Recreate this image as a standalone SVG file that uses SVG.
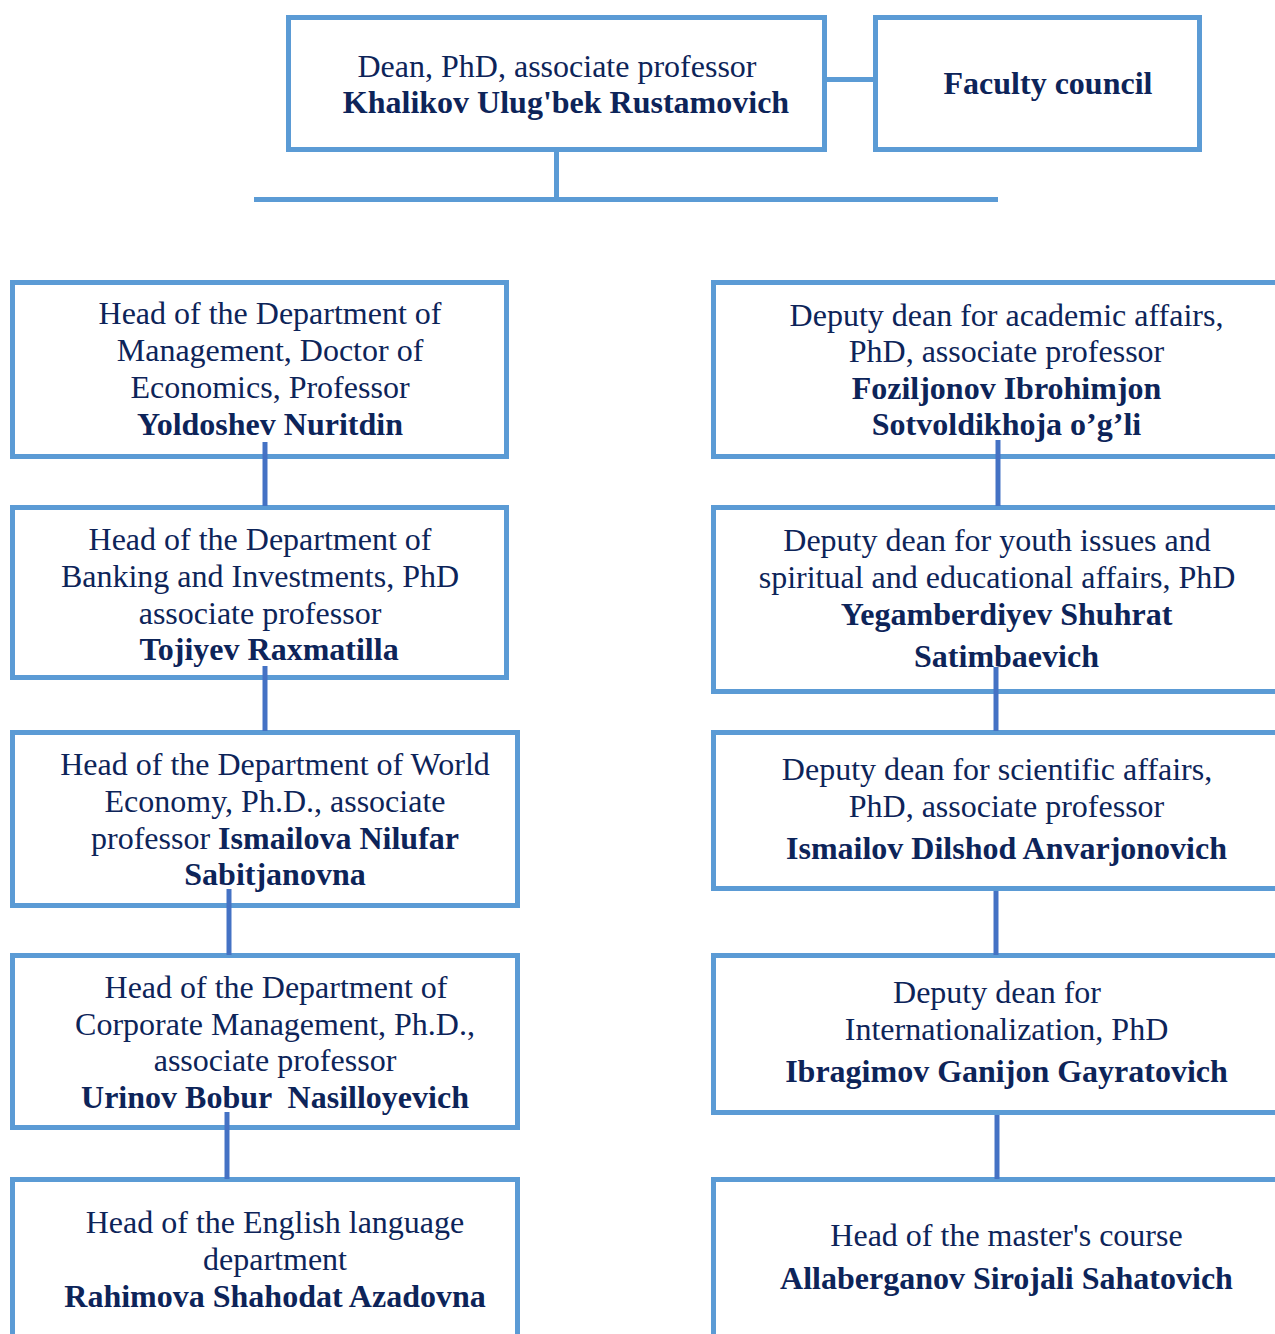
<svg xmlns="http://www.w3.org/2000/svg" width="1275" height="1334" viewBox="0 0 1275 1334">
<style>
.box{fill:#fff;stroke:#5b9bd5;stroke-width:5}
.t{font-family:"Liberation Serif","Times New Roman",serif;font-size:32px;fill:#0d2459;text-anchor:middle}
.b{font-weight:bold}
.c{stroke:#4472c4;stroke-width:5;fill:none}
.cl{stroke:#5b9bd5;stroke-width:5;fill:none}
</style>
<rect width="1275" height="1334" fill="#fff"/>
<g id="dean">
<rect class="box" x="288.5" y="17.5" width="536" height="132"/>
<text class="t" x="557" y="77">Dean, PhD, associate professor</text>
<text class="t b" x="566" y="113">Khalikov Ulug'bek Rustamovich</text>
</g>
<g id="faculty-council">
<rect class="box" x="875.5" y="17.5" width="324" height="132"/>
<text class="t b" x="1048" y="94">Faculty council</text>
</g>
<g id="head-management">
<rect class="box" x="12.5" y="282.5" width="494" height="174"/>
<text class="t" x="270" y="324">Head of the Department of</text>
<text class="t" x="270" y="361">Management, Doctor of</text>
<text class="t" x="270" y="398">Economics, Professor</text>
<text class="t b" x="270" y="435">Yoldoshev Nuritdin</text>
</g>
<g id="head-banking">
<rect class="box" x="12.5" y="507.5" width="494" height="170"/>
<text class="t" x="260" y="550">Head of the Department of</text>
<text class="t" x="260" y="587">Banking and Investments, PhD</text>
<text class="t" x="260" y="624">associate professor</text>
<text class="t b" x="269" y="660">Tojiyev Raxmatilla</text>
</g>
<g id="head-world-economy">
<rect class="box" x="12.5" y="732.5" width="505" height="173"/>
<text class="t" x="275" y="775">Head of the Department of World</text>
<text class="t" x="275" y="812">Economy, Ph.D., associate</text>
<text class="t" x="275" y="849">professor <tspan class="b">Ismailova Nilufar</tspan></text>
<text class="t b" x="275" y="885">Sabitjanovna</text>
</g>
<g id="head-corporate">
<rect class="box" x="12.5" y="955.5" width="505" height="172"/>
<text class="t" x="276" y="998">Head of the Department of</text>
<text class="t" x="275" y="1035">Corporate Management, Ph.D.,</text>
<text class="t" x="275" y="1071">associate professor</text>
<text class="t b" x="275" y="1108" xml:space="preserve">Urinov Bobur  Nasilloyevich</text>
</g>
<g id="head-english">
<rect class="box" x="12.5" y="1179.5" width="505" height="200"/>
<text class="t" x="275" y="1233">Head of the English language</text>
<text class="t" x="275" y="1270">department</text>
<text class="t b" x="275" y="1307">Rahimova Shahodat Azadovna</text>
</g>
<g id="deputy-academic">
<rect class="box" x="713.5" y="282.5" width="600" height="174"/>
<text class="t" x="1006.5" y="326">Deputy dean for academic affairs,</text>
<text class="t" x="1006.5" y="362">PhD, associate professor</text>
<text class="t b" x="1006.5" y="399">Foziljonov Ibrohimjon</text>
<text class="t b" x="1006.5" y="435">Sotvoldikhoja o’g’li</text>
</g>
<g id="deputy-youth">
<rect class="box" x="713.5" y="507.5" width="600" height="184"/>
<text class="t" x="997" y="551">Deputy dean for youth issues and</text>
<text class="t" x="997" y="588">spiritual and educational affairs, PhD</text>
<text class="t b" x="1006.5" y="625">Yegamberdiyev Shuhrat</text>
<text class="t b" x="1006.5" y="667">Satimbaevich</text>
</g>
<g id="deputy-scientific">
<rect class="box" x="713.5" y="732.5" width="600" height="156"/>
<text class="t" x="997" y="780">Deputy dean for scientific affairs,</text>
<text class="t" x="1006.5" y="817">PhD, associate professor</text>
<text class="t b" x="1006.5" y="859">Ismailov Dilshod Anvarjonovich</text>
</g>
<g id="deputy-international">
<rect class="box" x="713.5" y="955.5" width="600" height="157"/>
<text class="t" x="997" y="1003">Deputy dean for</text>
<text class="t" x="1006.5" y="1040">Internationalization, PhD</text>
<text class="t b" x="1006.5" y="1082">Ibragimov Ganijon Gayratovich</text>
</g>
<g id="head-masters">
<rect class="box" x="713.5" y="1179.5" width="600" height="200"/>
<text class="t" x="1006.5" y="1246">Head of the master's course</text>
<text class="t b" x="1006.5" y="1289">Allaberganov Sirojali Sahatovich</text>
</g>
<g id="connectors">
<line class="cl" x1="827" y1="79.5" x2="873" y2="79.5"/>
<line class="cl" x1="556.5" y1="152" x2="556.5" y2="199"/>
<line class="cl" x1="254" y1="199.5" x2="998" y2="199.5"/>
<line class="c" x1="265" y1="442" x2="265" y2="506"/>
<line class="c" x1="265" y1="666" x2="265" y2="731"/>
<line class="c" x1="229" y1="889" x2="229" y2="955"/>
<line class="c" x1="227" y1="1112" x2="227" y2="1179"/>
<line class="c" x1="998" y1="440" x2="998" y2="506"/>
<line class="c" x1="996" y1="667" x2="996" y2="731"/>
<line class="c" x1="996" y1="891" x2="996" y2="955"/>
<line class="c" x1="997" y1="1115" x2="997" y2="1179"/>
</g>
</svg>
